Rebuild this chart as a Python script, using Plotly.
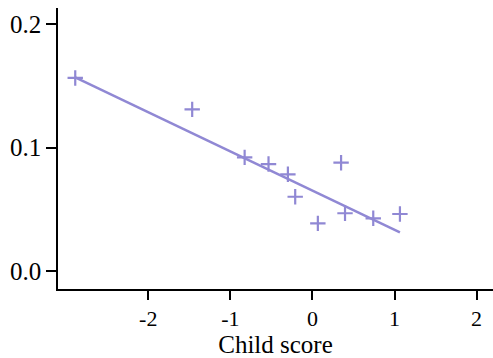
import plotly.graph_objects as go

# Observed scores and proportions
child_score = [-2.89, -1.465, -0.826, -0.535, -0.299, -0.21, 0.066, 0.349, 0.397, 0.741, 1.066]
proportion = [0.1565, 0.131, 0.0921, 0.0867, 0.0784, 0.0602, 0.0386, 0.0878, 0.0468, 0.0427, 0.0462]

# Fitted trend line endpoints
fit_x = [-2.89, 1.066]
fit_y = [0.157, 0.0314]

x_tickvals = [-2, -1, 0, 1, 2]
x_ticktext = ["-2", "-1", "0", "1", "2"]
y_tickvals = [0.0, 0.1, 0.2]
y_ticktext = ["0.0", "0.1", "0.2"]

color = "#9088d4"
font_family = "Liberation Serif"

fig = go.Figure()
fig.add_trace(go.Scatter(
    x=fit_x, y=fit_y, mode="lines",
    line=dict(color=color, width=2.5),
    showlegend=False, hoverinfo="skip",
))
fig.add_trace(go.Scatter(
    x=child_score, y=proportion, mode="markers",
    marker=dict(symbol="cross-thin", size=11, line=dict(color=color, width=2.2)),
    showlegend=False,
))

fig.update_layout(
    width=493, height=358,
    margin=dict(l=58, r=0, t=8, b=69),
    paper_bgcolor="white", plot_bgcolor="white",
    font=dict(family=font_family, color="black"),
    xaxis=dict(
        range=[-3.1, 2.2],
        tickvals=x_tickvals, ticktext=x_ticktext,
        ticks="outside", ticklen=9, tickwidth=1.5, tickcolor="black",
        showline=True, linecolor="black", linewidth=1.5,
        showgrid=False, zeroline=False,
        tickfont=dict(size=22, family=font_family),
        title=dict(text="Child score", font=dict(size=25, family=font_family), standoff=9),
    ),
    yaxis=dict(
        range=[-0.0146, 0.2132],
        tickvals=y_tickvals, ticktext=y_ticktext,
        ticks="outside", ticklen=10, tickwidth=1.5, tickcolor="black",
        showline=True, linecolor="black", linewidth=1.5,
        showgrid=False, zeroline=False,
        tickfont=dict(size=25, family=font_family),
    ),
)

fig.write_html("out.html")
